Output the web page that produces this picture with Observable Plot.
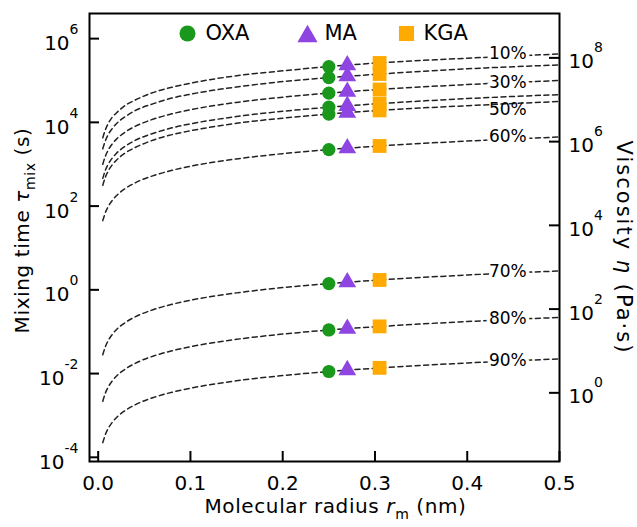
<!DOCTYPE html>
<html><head><meta charset="utf-8">
<script src="https://cdn.jsdelivr.net/npm/d3@7"></script>
<script src="https://cdn.jsdelivr.net/npm/@observablehq/plot@0.6"></script>
<style>
body{margin:0;background:#fff;}
#chart{width:637px;height:527px;}
</style>
</head><body><div id="chart"></div>
<script>
// ---- data ----
const radius = [0.005, 0.0075, 0.01, 0.015, 0.02, 0.03, 0.04, 0.06, 0.08, 0.1, 0.15, 0.2, 0.25, 0.3, 0.4, 0.5];
const rhLevels = ["10%", "20%", "30%", "40%", "50%", "60%", "70%", "80%", "90%"];
const tau10 = [4.3e3, 6.4e3, 8.6e3, 1.3e4, 1.7e4, 2.6e4, 3.4e4, 5.2e4, 6.9e4, 8.6e4, 1.3e5, 1.7e5, 2.15e5, 2.6e5, 3.4e5, 4.3e5];
const tau20 = [2.35e3, 3.5e3, 4.7e3, 7.0e3, 9.4e3, 1.4e4, 1.9e4, 2.8e4, 3.8e4, 4.7e4, 7.0e4, 9.4e4, 1.17e5, 1.4e5, 1.9e5, 2.35e5];
const tau30 = [1.0e3, 1.5e3, 2.0e3, 3.0e3, 4.0e3, 6.0e3, 8.0e3, 1.2e4, 1.6e4, 2.0e4, 3.0e4, 4.0e4, 5.0e4, 6.0e4, 8.0e4, 1.0e5];
const tau40 = [460, 690, 920, 1.38e3, 1.84e3, 2.76e3, 3.7e3, 5.5e3, 7.4e3, 9.2e3, 1.38e4, 1.84e4, 2.3e4, 2.76e4, 3.7e4, 4.6e4];
const tau50 = [316, 474, 632, 950, 1.26e3, 1.9e3, 2.5e3, 3.8e3, 5.1e3, 6.3e3, 9.5e3, 1.26e4, 1.58e4, 1.9e4, 2.5e4, 3.16e4];
const tau60 = [45, 67, 89, 134, 179, 268, 358, 536, 715, 894, 1.34e3, 1.79e3, 2.24e3, 2.68e3, 3.58e3, 4.47e3];
const tau70 = [0.0282, 0.0423, 0.0564, 0.0846, 0.113, 0.169, 0.226, 0.338, 0.451, 0.564, 0.846, 1.13, 1.41, 1.69, 2.26, 2.82];
const tau80 = [0.00219, 0.00329, 0.00438, 0.00657, 0.00876, 0.0131, 0.0175, 0.0263, 0.035, 0.0438, 0.0657, 0.0876, 0.11, 0.131, 0.175, 0.219];
const tau90 = [2.24e-4, 3.36e-4, 4.48e-4, 6.72e-4, 8.96e-4, 1.34e-3, 1.79e-3, 2.69e-3, 3.58e-3, 4.48e-3, 6.72e-3, 8.96e-3, 1.12e-2, 1.34e-2, 1.79e-2, 2.24e-2];

const compounds = ["OXA", "MA", "KGA"];
const compoundRadius = [0.25, 0.27, 0.305];
const oxaTau = [2.15e5, 1.17e5, 5.0e4, 2.3e4, 1.58e4, 2.24e3, 1.41, 0.11, 0.0112];
const maTau  = [2.32e5, 1.27e5, 5.4e4, 2.48e4, 1.71e4, 2.41e3, 1.52, 0.118, 0.0121];
const kgaTau = [2.62e5, 1.43e5, 6.1e4, 2.8e4, 1.93e4, 2.73e3, 1.72, 0.134, 0.0137];

const labelRH = ["10%", "30%", "50%", "60%", "70%", "80%", "90%"];
const labelRadius = [0.444, 0.444, 0.444, 0.444, 0.444, 0.444, 0.444];
const labelTau = [4.4e5, 8.9e4, 2.0e4, 4.6e3, 2.67, 0.21, 0.02];

const xTicks = [0, 0.1, 0.2, 0.3, 0.4, 0.5];
const yTicks = [1e-4, 1e-2, 1, 1e2, 1e4, 1e6];
const viscosityTicks = [1, 1e2, 1e4, 1e6, 1e8];
const viscosityPerTau = 10 ** 2.46; // right axis alignment

const titleLeft = "Mixing time *τ*_{mix} (s)";
const titleBottom = "Molecular radius *r*_{m} (nm)";
const titleRight = "Viscosity *η* (Pa·s)";

// ---- build tables ----
const tauSeries = [tau10, tau20, tau30, tau40, tau50, tau60, tau70, tau80, tau90];
const curveRows = rhLevels.flatMap((rh, i) => radius.map((r, j) => ({rh, r, tau: tauSeries[i][j]})));
const markerSeries = [oxaTau, maTau, kgaTau];
const markerRows = compounds.map((c, k) => markerSeries[k].map(t => ({c, r: compoundRadius[k], tau: t})));
const labelRows = labelRH.map((rh, i) => ({rh, r: labelRadius[i], tau: labelTau[i]}));

const colors = {OXA: "#1a981c", MA: "#8e45e2", KGA: "#ffaa00"};
const symbols = {OXA: "circle", MA: "triangle", KGA: "square"};
const sizes = {OXA: 6.6, MA: 6.6, KGA: 7.8};

const W = 637, H = 527, mL = 89, mR = 78, mT = 13, mB = 66;
const fw = W - mL - mR, fh = H - mT - mB;
const FONT = "DejaVu Sans";
const expFmt = d => `10^{${Math.round(Math.log10(d))}}`;

const chart = Plot.plot({
  width: W, height: H,
  marginLeft: mL, marginRight: mR, marginTop: mT, marginBottom: mB,
  style: {fontFamily: FONT, fontSize: "20px", color: "black", background: "white"},
  x: {domain: [-0.0094, 0.5]},
  y: {type: "log", domain: [10 ** -4.1, 10 ** 6.6]},
  marks: [
    Plot.line(curveRows, {x: "r", y: "tau", z: "rh", stroke: "#222", strokeWidth: 1.5, strokeDasharray: "5,3.6", curve: "monotone-x"}),
    Plot.text(labelRows.filter(d => d.rh !== "50%"), {x: "r", y: "tau", text: "rh", fontSize: 17, fill: "black", stroke: "white", strokeWidth: 7, paintOrder: "stroke"}),
    Plot.text(labelRows.filter(d => d.rh === "50%"), {x: "r", y: "tau", text: "rh", fontSize: 17, fill: "black"}),
    ...markerRows.map((rows, k) => Plot.dot(rows, {x: "r", y: "tau", symbol: () => symbols[compounds[k]], fill: colors[compounds[k]], r: sizes[compounds[k]], stroke: "none"})),
    // legend
    Plot.dot(["OXA"], {frameAnchor: "top-left", dx: 98, dy: 20, symbol: "circle", fill: colors.OXA, r: 8}),
    Plot.text(["OXA"], {frameAnchor: "top-left", dx: 116, dy: 20, text: d => d, textAnchor: "start", lineAnchor: "middle", fontSize: 21}),
    Plot.dot(["MA"], {frameAnchor: "top-left", dx: 218, dy: 23, symbol: "triangle", fill: colors.MA, r: 7.5}),
    Plot.text(["MA"], {frameAnchor: "top-left", dx: 235, dy: 20, text: d => d, textAnchor: "start", lineAnchor: "middle", fontSize: 21}),
    Plot.dot(["KGA"], {frameAnchor: "top-left", dx: 317, dy: 20, symbol: "square", fill: colors.KGA, r: 8.5}),
    Plot.text(["KGA"], {frameAnchor: "top-left", dx: 334, dy: 20, text: d => d, textAnchor: "start", lineAnchor: "middle", fontSize: 21}),
    // frame + inward ticks
    Plot.frame({stroke: "black", strokeWidth: 2}),
    Plot.tickX(xTicks, {x: d => d, insetTop: fh - 10, stroke: "black", strokeWidth: 2}),
    Plot.tickY(yTicks, {y: d => d, insetRight: fw - 10, stroke: "black", strokeWidth: 2}),
    Plot.tickY(viscosityTicks.map(v => v / viscosityPerTau), {y: d => d, insetLeft: fw - 10, stroke: "black", strokeWidth: 2}),
    // tick labels
    Plot.axisX(xTicks, {tickSize: 0, tickPadding: 14, tickFormat: d3.format(".1f"), fontSize: 20, label: null}),
    Plot.axisY(yTicks, {anchor: "left", tickSize: 0, tickPadding: 11, tickFormat: expFmt, fontSize: 20, dy: 5, label: null}),
    Plot.axisY(viscosityTicks.map(v => v / viscosityPerTau), {anchor: "right", tickSize: 0, tickPadding: 9, tickFormat: d => `10^{${Math.round(Math.log10(d * viscosityPerTau))}}`, fontSize: 20, dy: 4, label: null}),
    // axis titles
    Plot.text([titleLeft], {frameAnchor: "left", dx: -67, dy: -7, rotate: -90, textAnchor: "middle", lineAnchor: "middle", text: d => d, fontSize: 20}),
    Plot.text([titleBottom], {frameAnchor: "bottom", dx: 11, dy: 45, textAnchor: "middle", lineAnchor: "middle", text: d => d, fontSize: 20}),
    Plot.text([titleRight], {frameAnchor: "right", dx: 64, dy: 10, rotate: 90, textAnchor: "middle", lineAnchor: "middle", text: d => d, fontSize: 21})
  ]
});

document.getElementById("chart").appendChild(chart);

// rich text: ^{sup}, _{sub}, *italic*
(function richify(svg) {
  const ns = "http://www.w3.org/2000/svg";
  const spacing = new Map([[titleLeft, 0.6], [titleBottom, 0.6], [titleRight, 2]]);
  svg.querySelectorAll("text").forEach(el => {
    if (el.querySelector("tspan")) return;
    const s = el.textContent;
    if (!/[\^_]\{|\*/.test(s)) return;
    if (spacing.has(s)) el.setAttribute("letter-spacing", spacing.get(s));
    const fs = parseFloat(getComputedStyle(el).fontSize) || 20;
    el.textContent = "";
    const re = /\^\{([^}]*)\}|_\{([^}]*)\}|\*([^*]*)\*|([^\^_*]+)/g;
    let shift = 0, m;
    while ((m = re.exec(s))) {
      const t = document.createElementNS(ns, "tspan");
      let target = 0;
      if (m[1] != null) { t.textContent = m[1]; t.setAttribute("font-size", (fs * 0.7).toFixed(1)); target = -0.8 * fs; }
      else if (m[2] != null) { t.textContent = m[2]; t.setAttribute("font-size", (fs * 0.7).toFixed(1)); target = 0.3 * fs; }
      else if (m[3] != null) { t.textContent = m[3]; t.setAttribute("font-style", "italic"); }
      else { t.textContent = m[4]; }
      if (target !== shift) { t.setAttribute("dy", (target - shift).toFixed(1)); shift = target; }
      el.appendChild(t);
    }
  });
})(chart);
</script>
</body></html>
